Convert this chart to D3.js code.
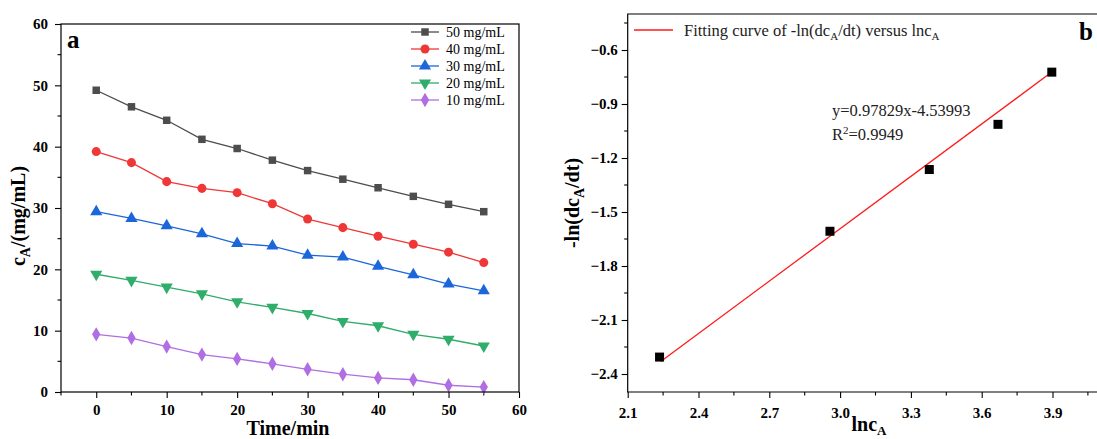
<!DOCTYPE html>
<html>
<head>
<meta charset="utf-8">
<script src="https://cdn.jsdelivr.net/npm/d3@7"></script>
<style>
  body { margin: 0; background: #fff; }
  svg { display: block; }
</style>
</head>
<body>
<svg id="chart" width="1097" height="439" font-family="Liberation Serif, Times New Roman, serif"></svg>
<script>
// ---------- DATA ----------
// panel a: concentration vs time for five starting concentrations
const TIMES = [0, 5, 10, 15, 20, 25, 30, 35, 40, 45, 50, 55];
const SERIES_NAMES = ["50 mg/mL", "40 mg/mL", "30 mg/mL", "20 mg/mL", "10 mg/mL"];
const C50 = [49.2, 46.5, 44.3, 41.2, 39.7, 37.8, 36.1, 34.7, 33.3, 31.9, 30.6, 29.4];
const C40 = [39.2, 37.4, 34.3, 33.2, 32.5, 30.7, 28.2, 26.8, 25.4, 24.1, 22.8, 21.1];
const C30 = [29.4, 28.3, 27.1, 25.8, 24.2, 23.8, 22.3, 22.0, 20.5, 19.1, 17.6, 16.5];
const C20 = [19.2, 18.2, 17.1, 16.0, 14.7, 13.8, 12.8, 11.5, 10.8, 9.4, 8.6, 7.5];
const C10 = [9.4, 8.8, 7.4, 6.1, 5.4, 4.6, 3.7, 2.9, 2.3, 2.0, 1.1, 0.8];
const A_X_TICKS = [0, 10, 20, 30, 40, 50, 60];
const A_Y_TICKS = [0, 10, 20, 30, 40, 50, 60];

// panel b: -ln(dcA/dt) vs lncA
const LNC = [2.235, 2.957, 3.378, 3.669, 3.897];
const NEG_LN_RATE = [-2.306, -1.607, -1.264, -1.013, -0.723];
const FIT_X = [2.24, 3.90];
const FIT_Y = [-2.33, -0.72];
const B_X_TICKS = [2.1, 2.4, 2.7, 3.0, 3.3, 3.6, 3.9];
const B_Y_TICKS = [-0.6, -0.9, -1.2, -1.5, -1.8, -2.1, -2.4];

// ---------- STYLE ----------
const SERIF = "Liberation Serif, Times New Roman, serif";
const COLORS = ["#4d4d4d", "#f03737", "#1c66dc", "#2fad6a", "#b06ee2"];
const SYMBOLS = [d3.symbolSquare, d3.symbolCircle, d3.symbolTriangle, d3.symbolTriangle, d3.symbolDiamond];
const SYM_SIZE = [56, 64, 64, 64, 60];
const SYM_ROT = [0, 0, 0, 180, 0];

const svg = d3.select("#chart");
svg.append("rect").attr("width", 1097).attr("height", 439).attr("fill", "#fff");

// restyle a d3 axis to look like the origin plot
function styleAxis(g) {
  g.attr("font-family", SERIF).attr("font-size", 15).attr("font-weight", "bold");
  g.select(".domain").remove();
  g.selectAll(".tick line").attr("stroke", "#000").attr("stroke-width", 1.1);
  g.selectAll(".tick text").attr("fill", "#000");
}

// minor tick helper
function minorTicks(g, scale, values, orient, len) {
  values.forEach(v => {
    const p = scale(v);
    if (orient === "bottom") {
      g.append("line").attr("x1", p).attr("x2", p).attr("y1", 0).attr("y2", len)
        .attr("stroke", "#000").attr("stroke-width", 1.1);
    } else {
      g.append("line").attr("y1", p).attr("y2", p).attr("x1", 0).attr("x2", -len)
        .attr("stroke", "#000").attr("stroke-width", 1.1);
    }
  });
}

function symbolPath(i) {
  return d3.symbol().type(SYMBOLS[i]).size(SYM_SIZE[i])();
}

// ---------- PANEL A ----------
const ax = d3.scaleLinear().domain([-5, 60]).range([61, 519]);
const ay = d3.scaleLinear().domain([0, 60]).range([392, 24]);
const ga = svg.append("g");

const axA = ga.append("g").attr("transform", "translate(0,392)")
  .call(d3.axisBottom(ax).tickValues(A_X_TICKS).tickSize(6).tickPadding(6).tickSizeOuter(0))
  .call(styleAxis);
minorTicks(axA, ax, [-5, 5, 15, 25, 35, 45, 55], "bottom", 3.5);
const ayA = ga.append("g").attr("transform", "translate(61,0)")
  .call(d3.axisLeft(ay).tickValues(A_Y_TICKS).tickSize(6).tickPadding(7).tickSizeOuter(0))
  .call(styleAxis);
minorTicks(ayA, ay, [5, 15, 25, 35, 45, 55], "left", 3.5);

const seriesA = [C50, C40, C30, C20, C10];
const line = d3.line().x((d, i) => ax(TIMES[i])).y(d => ay(d));
seriesA.forEach((vals, s) => {
  ga.append("path").datum(vals).attr("d", line)
    .attr("fill", "none").attr("stroke", COLORS[s]).attr("stroke-width", 1.3);
  ga.selectAll(null).data(vals).join("path")
    .attr("d", symbolPath(s))
    .attr("transform", (d, i) => `translate(${ax(TIMES[i])},${ay(d)}) rotate(${SYM_ROT[s]})`)
    .attr("fill", COLORS[s]);
});

ga.append("rect").attr("x", 61).attr("y", 24).attr("width", 458).attr("height", 368)
  .attr("fill", "none").attr("stroke", "#000").attr("stroke-width", 1.2);

// legend
SERIES_NAMES.forEach((name, s) => {
  const yy = 32 + s * 17;
  ga.append("line").attr("x1", 411).attr("x2", 439).attr("y1", yy).attr("y2", yy)
    .attr("stroke", COLORS[s]).attr("stroke-width", 1.3);
  ga.append("path").attr("d", symbolPath(s))
    .attr("transform", `translate(425,${yy}) rotate(${SYM_ROT[s]})`).attr("fill", COLORS[s]);
  ga.append("text").attr("x", 446).attr("y", yy + 4.5).attr("font-size", 14).text(name);
});

ga.append("text").attr("x", 67).attr("y", 48).attr("font-size", 25).attr("font-weight", "bold").text("a");

ga.append("text").attr("x", 288).attr("y", 435).attr("text-anchor", "middle")
  .attr("font-size", 20).attr("font-weight", "bold").text("Time/min");

const ytA = ga.append("text").attr("transform", "translate(25,216) rotate(-90)")
  .attr("text-anchor", "middle").attr("font-size", 20).attr("font-weight", "bold");
ytA.append("tspan").text("c");
ytA.append("tspan").attr("font-size", 14).attr("dy", 5).text("A");
ytA.append("tspan").attr("dy", -5).text("/(mg/mL)");

// ---------- PANEL B ----------
const bx = d3.scaleLinear().domain([2.1, 4.2]).range([627.7, 1123.3]);
const by = d3.scaleLinear().domain([-2.5, -0.4]).range([392, 14]);
const gb = svg.append("g");

const axB = gb.append("g").attr("transform", "translate(0,392)")
  .call(d3.axisBottom(bx).tickValues(B_X_TICKS).tickFormat(d3.format(".1f"))
    .tickSize(6).tickPadding(9).tickSizeOuter(0))
  .call(styleAxis);
minorTicks(axB, bx, [2.25, 2.55, 2.85, 3.15, 3.45, 3.75, 4.05], "bottom", 3.5);
const ayB = gb.append("g").attr("transform", "translate(627.7,0)")
  .call(d3.axisLeft(by).tickValues(B_Y_TICKS).tickFormat(d3.format(".1f"))
    .tickSize(6).tickPadding(4).tickSizeOuter(0))
  .call(styleAxis);
minorTicks(ayB, by, [-0.45, -0.75, -1.05, -1.35, -1.65, -1.95, -2.25], "left", 3.5);

// frame (right edge falls outside the picture)
gb.append("path").attr("d", `M1123.3,14H627.7V392H1123.3`)
  .attr("fill", "none").attr("stroke", "#000").attr("stroke-width", 1.2);

gb.append("path")
  .datum(FIT_X.map((x, i) => [x, FIT_Y[i]]))
  .attr("d", d3.line().x(d => bx(d[0])).y(d => by(d[1])))
  .attr("fill", "none").attr("stroke", "#ff1a1a").attr("stroke-width", 1.3);

gb.selectAll(null).data(LNC).join("rect")
  .attr("x", (d, i) => bx(d) - 4.5).attr("y", (d, i) => by(NEG_LN_RATE[i]) - 4.5)
  .attr("width", 9).attr("height", 9).attr("fill", "#000");

// legend
gb.append("line").attr("x1", 634).attr("x2", 673).attr("y1", 30).attr("y2", 30)
  .attr("stroke", "#ff1a1a").attr("stroke-width", 1.5);
const lg = gb.append("text").attr("x", 684).attr("y", 36).attr("font-size", 16.5).attr("fill", "#222");
lg.append("tspan").text("Fitting curve of -ln(dc");
lg.append("tspan").attr("font-size", 11).attr("dy", 4).text("A");
lg.append("tspan").attr("dy", -4).text("/dt) versus lnc");
lg.append("tspan").attr("font-size", 11).attr("dy", 4).text("A");

gb.append("text").attr("x", 1079).attr("y", 40).attr("font-size", 25).attr("font-weight", "bold").text("b");

gb.append("text").attr("x", 832).attr("y", 116).attr("font-size", 16.5).attr("fill", "#222")
  .text("y=0.97829x-4.53993");
const r2 = gb.append("text").attr("x", 832).attr("y", 140).attr("font-size", 16.5).attr("fill", "#222");
r2.append("tspan").text("R");
r2.append("tspan").attr("font-size", 11).attr("dy", -6).text("2");
r2.append("tspan").attr("dy", 6).text("=0.9949");

const xtB = gb.append("text").attr("x", 869).attr("y", 431).attr("text-anchor", "middle")
  .attr("font-size", 20).attr("font-weight", "bold");
xtB.append("tspan").text("lnc");
xtB.append("tspan").attr("font-size", 13).attr("dy", 4).text("A");

const ytB = gb.append("text").attr("transform", "translate(579,203) rotate(-90)")
  .attr("text-anchor", "middle").attr("font-size", 20).attr("font-weight", "bold");
ytB.append("tspan").text("-ln(dc");
ytB.append("tspan").attr("font-size", 14).attr("dy", 5).text("A");
ytB.append("tspan").attr("dy", -5).text("/dt)");
</script>
</body>
</html>
